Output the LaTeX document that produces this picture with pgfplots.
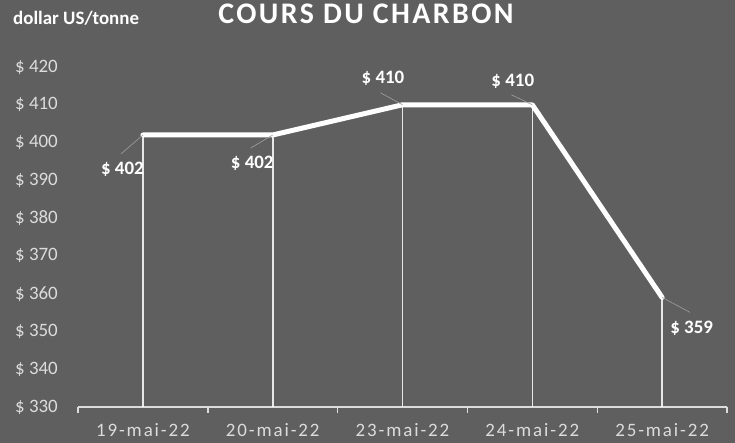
\documentclass[border=0pt]{standalone}
\usepackage{pgfplots}
\pgfplotsset{compat=1.18}
\usepackage{fontspec}
\setmainfont{Carlito}
\definecolor{bg}{RGB}{95,95,95}
\definecolor{lbl}{RGB}{220,220,220}
\definecolor{leader}{RGB}{160,160,160}
\begin{document}
\begin{tikzpicture}[x=1bp,y=1bp]
\fill[bg] (0,0) rectangle (735,443);
\node[anchor=base west, text=white, inner sep=0, font=\bfseries\fontsize{19}{19}\selectfont] at (13,418) {dollar US/tonne};
\node[anchor=base, text=white, inner sep=0, font=\bfseries\fontsize{30}{30}\selectfont\addfontfeatures{LetterSpace=8}] at (366,419) {COURS DU CHARBON};
\begin{axis}[
  at={(78bp,36bp)}, anchor=south west, scale only axis,
  width=649bp, height=340bp,
  xmin=-0.5, xmax=4.5, ymin=330, ymax=420,
  axis x line=bottom, axis y line=left,
  x axis line style={-, draw=lbl, line width=1.6bp},
  y axis line style={draw=none},
  xtick={0,1,2,3,4},
  xticklabels={19-mai-22,20-mai-22,23-mai-22,24-mai-22,25-mai-22},
  minor xtick={-0.5,0.5,1.5,2.5,3.5,4.5},
  major tick length=0pt, minor tick length=6bp,
  tick align=outside,
  minor x tick style={draw=lbl, line width=1.4bp},
  ytick={330,340,...,420},
  ytick style={draw=none},
  yticklabel={\$ \pgfmathprintnumber[assume math mode=true]{\tick}},
  yticklabel style={inner sep=0, anchor=east, xshift=-20bp, text=lbl, font=\fontsize{19}{19}\selectfont},
  xticklabel style={inner sep=0, anchor=north, yshift=-16bp, text=lbl, font=\fontsize{19}{19}\selectfont\addfontfeatures{LetterSpace=10}},
  clip=false,
]
\addplot[ycomb, draw=white, line width=1.6bp, opacity=0.85] coordinates {(0,402) (1,402) (2,410) (3,410) (4,359)};
\addplot[draw=white, line width=5bp, line join=round, line cap=round] coordinates {(0,402) (1,402) (2,410) (3,410) (4,359)};
\begin{scope}[draw=leader, line width=0.6bp]
\draw (axis cs:0,402) -- ++(-22bp,-19bp);
\draw (axis cs:1,402) -- ++(-22bp,-13bp);
\draw (axis cs:2,410) -- ++(-22bp,12bp);
\draw (axis cs:3,410) -- ++(-21bp,10bp);
\draw (axis cs:4,359) -- ++(28bp,-15bp);
\end{scope}
\begin{scope}[every node/.style={text=white, inner sep=0, font=\bfseries\fontsize{19}{19}\selectfont}]
\node[xshift=-20.5bp, yshift=-34bp] at (axis cs:0,402) {\$ 402};
\node[xshift=-20.5bp, yshift=-28bp] at (axis cs:1,402) {\$ 402};
\node[xshift=-19.5bp, yshift=26bp] at (axis cs:2,410) {\$ 410};
\node[xshift=-19.5bp, yshift=23bp] at (axis cs:3,410) {\$ 410};
\node[xshift=29.5bp, yshift=-31bp] at (axis cs:4,359) {\$ 359};
\end{scope}
\end{axis}
\end{tikzpicture}
\end{document}
